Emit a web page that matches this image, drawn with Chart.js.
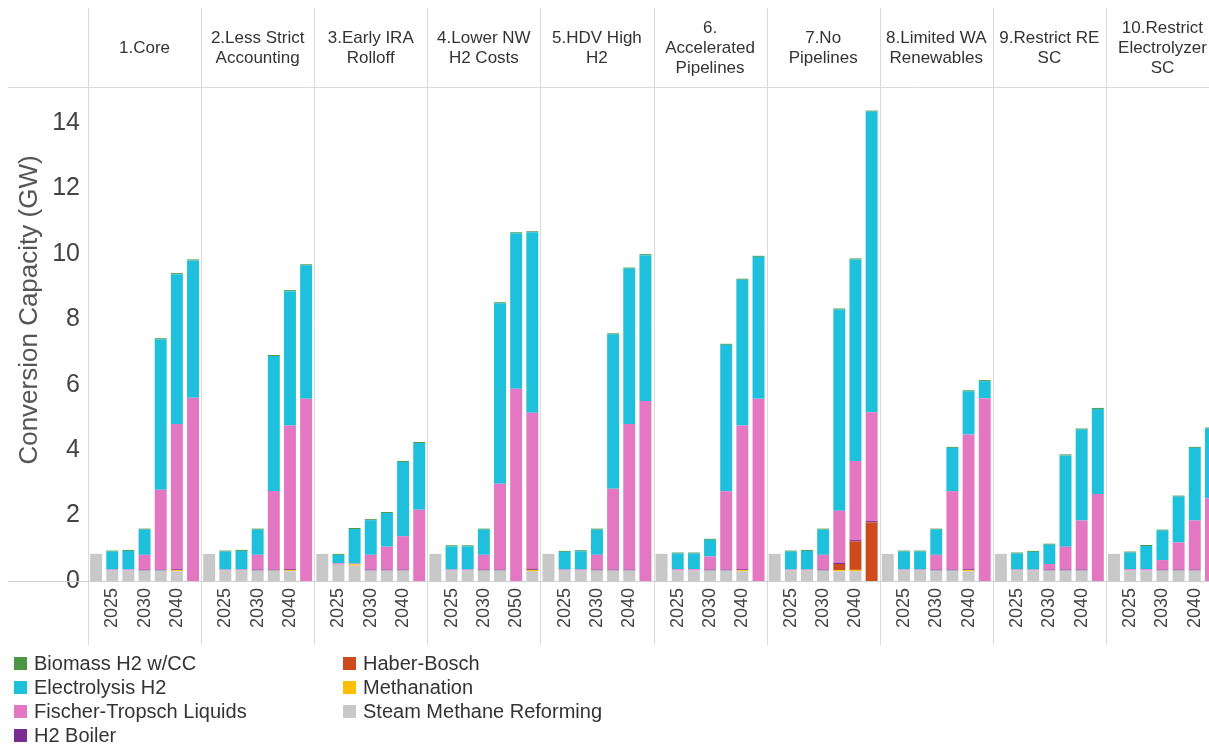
<!DOCTYPE html>
<html>
<head>
<meta charset="utf-8">
<script src="https://cdn.jsdelivr.net/npm/chart.js@4.4.1/dist/chart.umd.min.js"></script>
<style>
    body { margin: 0; overflow: hidden; background: #fff; font-family: 'Liberation Sans', Arial, sans-serif; }
    #wrap { position: relative; width: 1222px; height: 747px; }
    #legend {
        position: absolute; left: 14px; top: 651px;
        display: grid; grid-auto-flow: column;
        grid-template-rows: repeat(4, 24px);
        grid-template-columns: 329px 340px;
        font-size: 20px; color: #333;
    }
    .item { display: flex; align-items: center; white-space: nowrap; }
    .swatch { width: 13px; height: 13px; margin-right: 7px; }
</style>
</head>
<body>
<div id="wrap">
    <canvas id="chart" width="1222" height="747"></canvas>
    <div id="legend"></div>
</div>
<script>
// --- Data ---
const scenarios = [
    ['1.Core'],
    ['2.Less Strict', 'Accounting'],
    ['3.Early IRA', 'Rolloff'],
    ['4.Lower NW', 'H2 Costs'],
    ['5.HDV High', 'H2'],
    ['6.', 'Accelerated', 'Pipelines'],
    ['7.No', 'Pipelines'],
    ['8.Limited WA', 'Renewables'],
    ['9.Restrict RE', 'SC'],
    ['10.Restrict', 'Electrolyzer', 'SC'],
];

// tick labels shown under each panel's 7 bars
const ticks2040 = ['', '2025', '', '2030', '', '2040', ''];
const ticks2050 = ['', '2025', '', '2030', '', '2050', ''];
const panelTicks = [ticks2040, ticks2040, ticks2040, ticks2050, ticks2040,
    ticks2040, ticks2040, ticks2040, ticks2040, ticks2040];

const yTitle = 'Conversion Capacity (GW)';

// series values, one row of 7 bars per scenario (GW)
const steamMethane = [
    0.83, 0.32, 0.32, 0.32, 0.32, 0.30, 0,
    0.83, 0.32, 0.32, 0.32, 0.32, 0.30, 0,
    0.83, 0.50, 0.47, 0.32, 0.32, 0.32, 0,
    0.83, 0.32, 0.32, 0.32, 0.32, 0, 0.30,
    0.83, 0.32, 0.32, 0.32, 0.32, 0.32, 0,
    0.83, 0.32, 0.32, 0.32, 0.32, 0.30, 0,
    0.83, 0.32, 0.32, 0.32, 0.30, 0.30, 0,
    0.83, 0.32, 0.32, 0.32, 0.32, 0.30, 0,
    0.83, 0.32, 0.32, 0.32, 0.32, 0.32, 0,
    0.83, 0.32, 0.32, 0.32, 0.32, 0.32, 0,
];
const methanation = [
    0, 0, 0, 0, 0, 0.03, 0,
    0, 0, 0, 0, 0, 0.03, 0,
    0, 0, 0.04, 0, 0, 0, 0,
    0, 0, 0, 0, 0, 0, 0.04,
    0, 0, 0, 0, 0, 0, 0,
    0, 0, 0, 0, 0, 0.03, 0,
    0, 0, 0, 0, 0.03, 0.04, 0,
    0, 0, 0, 0, 0, 0.03, 0,
    0, 0, 0, 0, 0, 0, 0,
    0, 0, 0, 0, 0, 0, 0,
];
const haberBosch = [
    0, 0, 0, 0, 0, 0, 0,
    0, 0, 0, 0, 0, 0, 0,
    0, 0, 0, 0, 0, 0, 0,
    0, 0, 0, 0, 0, 0, 0,
    0, 0, 0, 0, 0, 0, 0,
    0, 0, 0, 0, 0, 0, 0,
    0, 0, 0, 0, 0.19, 0.87, 1.79,
    0, 0, 0, 0, 0, 0, 0,
    0, 0, 0, 0, 0, 0, 0,
    0, 0, 0, 0, 0, 0, 0,
];
const h2Boiler = [
    0, 0, 0, 0.03, 0.03, 0.03, 0,
    0, 0, 0, 0.03, 0.03, 0.03, 0,
    0, 0, 0, 0.03, 0.03, 0.03, 0,
    0, 0, 0, 0.03, 0.03, 0, 0.03,
    0, 0, 0, 0.03, 0.03, 0.03, 0,
    0, 0, 0, 0.03, 0.03, 0.03, 0,
    0, 0, 0, 0.03, 0.04, 0.04, 0.04,
    0, 0, 0, 0.03, 0.03, 0.03, 0,
    0, 0, 0, 0.03, 0.03, 0.03, 0,
    0, 0, 0, 0.03, 0.03, 0.03, 0,
];
const fischerTropsch = [
    0, 0.03, 0.03, 0.45, 2.44, 4.44, 5.60,
    0, 0.03, 0.03, 0.45, 2.40, 4.39, 5.57,
    0, 0.04, 0.02, 0.45, 0.70, 1.02, 2.18,
    0, 0.03, 0.03, 0.45, 2.62, 5.88, 4.77,
    0, 0.03, 0.03, 0.45, 2.47, 4.45, 5.50,
    0, 0.04, 0.04, 0.40, 2.39, 4.39, 5.57,
    0, 0.03, 0.03, 0.45, 1.59, 2.42, 3.33,
    0, 0.03, 0.03, 0.45, 2.39, 4.12, 5.59,
    0, 0.03, 0.03, 0.17, 0.70, 1.50, 2.66,
    0, 0.04, 0.04, 0.29, 0.83, 1.50, 2.53,
];
const electrolysis = [
    0, 0.55, 0.57, 0.77, 4.60, 4.58, 4.20,
    0, 0.55, 0.57, 0.77, 4.13, 4.11, 4.08,
    0, 0.26, 1.06, 1.06, 1.03, 2.27, 2.04,
    0, 0.71, 0.71, 0.77, 5.52, 4.75, 5.52,
    0, 0.54, 0.56, 0.77, 4.72, 4.75, 4.46,
    0, 0.48, 0.48, 0.51, 4.48, 4.46, 4.34,
    0, 0.55, 0.57, 0.77, 6.15, 6.16, 9.19,
    0, 0.55, 0.55, 0.77, 1.33, 1.32, 0.52,
    0, 0.49, 0.54, 0.59, 2.79, 2.78, 2.60,
    0, 0.51, 0.71, 0.90, 1.40, 2.22, 2.13,
];
const biomass = [
    0, 0.03, 0.03, 0.03, 0.03, 0.03, 0.03,
    0, 0.03, 0.03, 0.03, 0.03, 0.03, 0.03,
    0, 0.03, 0.03, 0.03, 0.03, 0.03, 0.03,
    0, 0.03, 0.03, 0.03, 0.03, 0.03, 0.03,
    0, 0.03, 0.03, 0.03, 0.03, 0.03, 0.03,
    0, 0.03, 0.03, 0.03, 0.03, 0.03, 0.03,
    0, 0.03, 0.03, 0.03, 0.03, 0.03, 0.03,
    0, 0.03, 0.03, 0.03, 0.03, 0.03, 0.03,
    0, 0.03, 0.03, 0.03, 0.03, 0.03, 0.03,
    0, 0.03, 0.03, 0.03, 0.03, 0.03, 0.03,
];

// stacking order, bottom first
const series = [
    { name: 'Steam Methane Reforming', color: '#c8c8c8', data: steamMethane },
    { name: 'Methanation', color: '#ffbf00', data: methanation },
    { name: 'Haber-Bosch', color: '#cc4a1c', data: haberBosch },
    { name: 'H2 Boiler', color: '#7b2c90', data: h2Boiler },
    { name: 'Fischer-Tropsch Liquids', color: '#e377c2', data: fischerTropsch },
    { name: 'Electrolysis H2', color: '#1fc0dc', data: electrolysis },
    { name: 'Biomass H2 w/CC', color: '#4a9645', data: biomass },
];

const categories = [];
panelTicks.forEach((t) => categories.push(...t));

const FONT = "'Liberation Sans', Arial, sans-serif";

// --- Panel headers, separators, zero line, axis title ---
const panelFrame = {
    id: 'panelFrame',
    afterDraw(chart) {
        const { ctx, chartArea } = chart;
        const pw = (chartArea.right - chartArea.left) / scenarios.length;
        const zeroY = Math.round(chart.scales.y.getPixelForValue(0)) + 0.5;

        ctx.save();
        ctx.lineWidth = 1;
        ctx.strokeStyle = '#dadada';
        for (let p = 0; p <= scenarios.length; p++) {
            const x = Math.round(chartArea.left + p * pw) + 0.5;
            ctx.beginPath();
            ctx.moveTo(x, 8);
            ctx.lineTo(x, 645);
            ctx.stroke();
        }
        ctx.beginPath();
        ctx.moveTo(8, Math.round(chartArea.top) - 0.5);
        ctx.lineTo(chart.width, Math.round(chartArea.top) - 0.5);
        ctx.stroke();

        ctx.strokeStyle = '#cfcfcf';
        ctx.beginPath();
        ctx.moveTo(8, zeroY);
        ctx.lineTo(chart.width, zeroY);
        ctx.stroke();

        // headers
        ctx.fillStyle = '#333';
        ctx.font = '17px ' + FONT;
        ctx.textAlign = 'center';
        ctx.textBaseline = 'middle';
        scenarios.forEach((lines, p) => {
            const cx = chartArea.left + (p + 0.5) * pw;
            const y0 = 48 - (lines.length - 1) * 10;
            lines.forEach((line, i) => ctx.fillText(line, cx, y0 + i * 20));
        });

        // y axis title (Tableau centres it a little above the pane middle)
        ctx.translate(30, 310);
        ctx.rotate(-Math.PI / 2);
        ctx.fillStyle = '#555';
        ctx.font = '26px ' + FONT;
        ctx.fillText(yTitle, 0, 0);
        ctx.restore();
    },
};

// --- Chart ---
const ctx = document.getElementById('chart').getContext('2d');
const chart = new Chart(ctx, {
    type: 'bar',
    data: {
        labels: categories,
        datasets: series.map((s) => ({
            label: s.name,
            data: s.data,
            backgroundColor: s.color,
            borderWidth: 0,
            barPercentage: 0.74,
            categoryPercentage: 1,
        })),
    },
    options: {
        responsive: false,
        animation: false,
        events: [],
        layout: { padding: { top: 88, right: 3, bottom: 100, left: 0 } },
        plugins: {
            legend: { display: false },
            tooltip: { enabled: false },
        },
        scales: {
            x: {
                stacked: true,
                grid: { display: false, drawTicks: false },
                border: { display: false },
                ticks: {
                    autoSkip: false,
                    maxRotation: 90,
                    minRotation: 90,
                    padding: 7,
                    color: '#444',
                    font: { family: FONT, size: 18 },
                },
                afterFit(scale) {
                    scale.height = 66;
                    scale.paddingLeft = 0;
                    scale.paddingRight = 0;
                },
            },
            y: {
                stacked: true,
                min: 0,
                max: 15.07,
                grid: { display: false, drawTicks: false },
                border: { display: false },
                ticks: {
                    stepSize: 2,
                    includeBounds: false,
                    padding: 8,
                    color: '#444',
                    font: { family: FONT, size: 25 },
                },
                afterFit(scale) {
                    scale.width = 88;
                },
            },
        },
    },
    plugins: [panelFrame],
});

// --- Legend (alphabetical, two columns) ---
const legendEl = document.getElementById('legend');
series.slice()
    .sort((a, b) => a.name.localeCompare(b.name))
    .forEach((s) => {
        const item = document.createElement('div');
        item.className = 'item';
        const sw = document.createElement('span');
        sw.className = 'swatch';
        sw.style.background = s.color;
        const label = document.createElement('span');
        label.textContent = s.name;
        item.appendChild(sw);
        item.appendChild(label);
        legendEl.appendChild(item);
    });
</script>
</body>
</html>
